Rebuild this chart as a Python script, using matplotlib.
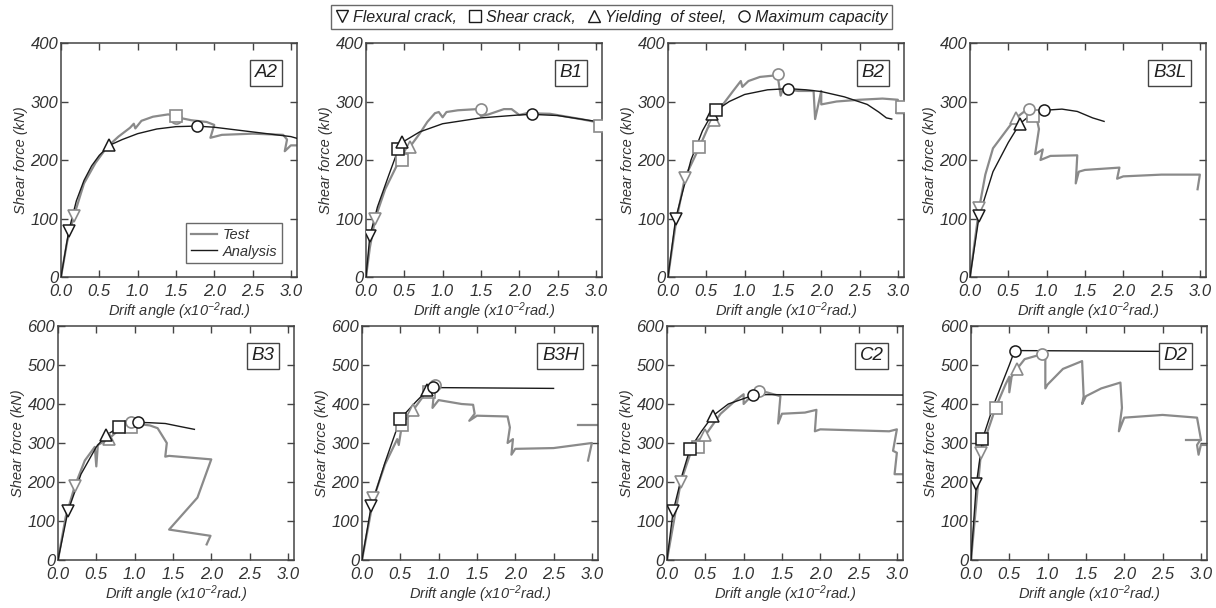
import matplotlib
matplotlib.use('Agg')
import matplotlib.pyplot as plt
from matplotlib.lines import Line2D

plt.rcParams['font.family'] = 'Liberation Sans'
plt.rcParams['font.style'] = 'italic'
plt.rcParams['mathtext.fontset'] = 'custom'
plt.rcParams['mathtext.it'] = 'Liberation Sans:italic'
plt.rcParams['mathtext.rm'] = 'Liberation Sans:italic'
plt.rcParams['mathtext.default'] = 'it'

TEST_C = '#8a8a8a'
ANA_C = '#1a1a1a'
TXT_C = '#333333'

# ---- data (drift angle x10^-2 rad, shear force kN) ----
a2_test = [(0, 0), (0.08, 60), (0.17, 105), (0.3, 160), (0.45, 195), (0.6, 222), (0.75, 240),
           (0.9, 255), (0.95, 262), (0.97, 254), (1.05, 267), (1.2, 274), (1.4, 278), (1.55, 272),
           (1.7, 268), (1.9, 265), (2.0, 260), (1.95, 238), (2.1, 243), (2.5, 245), (2.9, 243),
           (2.95, 235), (2.92, 215), (3.0, 225), (3.08, 225)]
a2_ana = [(0, 0), (0.1, 78), (0.2, 130), (0.3, 165), (0.4, 190), (0.5, 208), (0.63, 225), (0.8, 235),
          (1.0, 245), (1.25, 253), (1.5, 257), (1.77, 258), (2.0, 256), (2.5, 248), (3.0, 240), (3.08, 237)]
a2_test_marks = [('v', 0.17, 105), ('o', 1.5, 272), ('s', 1.5, 276)]
a2_ana_marks = [('v', 0.1, 78), ('^', 0.63, 225), ('o', 1.77, 258)]

b1_test = [(0, 0), (0.05, 50), (0.12, 100), (0.25, 150), (0.4, 190), (0.47, 200), (0.57, 222),
           (0.7, 245), (0.8, 265), (0.9, 280), (0.95, 282), (1.0, 273), (1.05, 282), (1.2, 285),
           (1.45, 287), (1.5, 275), (1.6, 278), (1.8, 287), (1.9, 287), (2.0, 277), (2.1, 280),
           (2.4, 279), (2.8, 270), (3.0, 265), (3.0, 255), (3.08, 255)]
b1_ana = [(0, 0), (0.05, 70), (0.15, 120), (0.3, 175), (0.42, 218), (0.47, 230), (0.7, 248),
          (1.0, 262), (1.5, 272), (2.0, 277), (2.17, 278), (2.5, 276), (3.0, 266), (3.08, 263)]
b1_test_marks = [('v', 0.12, 100), ('s', 0.47, 200), ('^', 0.57, 222), ('o', 1.5, 288), ('s', 3.05, 258)]
b1_ana_marks = [('v', 0.05, 70), ('s', 0.42, 218), ('^', 0.47, 230), ('o', 2.17, 278)]

b2_test = [(0, 0), (0.1, 90), (0.22, 170), (0.41, 222), (0.52, 255), (0.6, 268), (0.7, 292),
           (0.85, 318), (0.95, 335), (0.97, 325), (1.05, 335), (1.2, 342), (1.43, 345), (1.47, 310),
           (1.5, 322), (1.7, 318), (1.9, 318), (1.92, 270), (1.97, 300), (2.0, 318), (2.0, 295),
           (2.2, 300), (2.5, 303), (2.8, 305), (3.0, 303), (2.98, 280), (3.08, 280)]
b2_ana = [(0, 0), (0.1, 100), (0.3, 200), (0.45, 250), (0.57, 278), (0.63, 285), (0.8, 300),
          (1.0, 312), (1.3, 320), (1.57, 322), (1.8, 320), (2.0, 317), (2.3, 308), (2.6, 295),
          (2.75, 282), (2.85, 272), (2.92, 270)]
b2_test_marks = [('v', 0.22, 170), ('s', 0.41, 222), ('^', 0.6, 268), ('o', 1.43, 347), ('s', 3.05, 290)]
b2_ana_marks = [('v', 0.1, 100), ('^', 0.57, 278), ('s', 0.63, 285), ('o', 1.57, 322)]

b3l_test = [(0, 0), (0.12, 118), (0.2, 175), (0.3, 220), (0.5, 255), (0.6, 272), (0.7, 282),
            (0.77, 287), (0.82, 276), (0.88, 265), (0.9, 253), (0.85, 210), (0.95, 218), (0.92, 200),
            (1.05, 207), (1.4, 208), (1.38, 160), (1.42, 180), (1.5, 183), (1.95, 187), (1.92, 168),
            (2.0, 172), (2.5, 175), (3.0, 175), (2.97, 150)]
b3l_ana = [(0, 0), (0.12, 105), (0.3, 180), (0.5, 230), (0.65, 262), (0.8, 278), (0.97, 285),
           (1.2, 287), (1.4, 283), (1.6, 272), (1.75, 266)]
b3l_test_marks = [('v', 0.12, 118), ('^', 0.6, 272), ('s', 0.82, 276), ('o', 0.77, 287)]
b3l_ana_marks = [('v', 0.12, 105), ('^', 0.65, 262), ('o', 0.97, 285)]

b3_test = [(0, 0), (0.1, 110), (0.22, 190), (0.35, 255), (0.48, 290), (0.5, 240), (0.52, 295),
           (0.66, 310), (0.8, 335), (0.95, 350), (1.0, 350), (1.2, 345), (1.3, 338), (1.42, 300),
           (1.4, 265), (1.45, 267), (2.0, 258), (1.82, 160), (1.45, 78), (1.99, 62), (1.94, 40)]
b3_ana = [(0, 0), (0.13, 125), (0.3, 220), (0.5, 290), (0.63, 320), (0.79, 340), (0.9, 348),
          (1.05, 353), (1.2, 352), (1.4, 350), (1.6, 342), (1.78, 335)]
b3_test_marks = [('v', 0.22, 190), ('^', 0.66, 310), ('s', 0.95, 340), ('o', 0.95, 355)]
b3_ana_marks = [('v', 0.13, 125), ('^', 0.63, 320), ('s', 0.79, 340), ('o', 1.05, 353)]

b3h_test = [(0, 0), (0.15, 158), (0.3, 245), (0.46, 310), (0.48, 295), (0.52, 345), (0.67, 385),
            (0.8, 420), (0.88, 430), (0.95, 440), (0.93, 410), (0.92, 390), (1.0, 410), (1.3, 400),
            (1.45, 398), (1.47, 375), (1.4, 357), (1.5, 370), (1.9, 368), (1.93, 340), (1.9, 300),
            (1.97, 310), (1.95, 270), (2.0, 285), (2.5, 287), (3.0, 300), (2.95, 255)]
b3h_test2 = [(2.82, 345), (3.08, 345)]
b3h_ana = [(0, 0), (0.12, 138), (0.3, 250), (0.5, 362), (0.7, 405), (0.85, 435), (0.93, 443),
           (1.0, 442), (2.5, 440)]
b3h_test_marks = [('v', 0.15, 158), ('s', 0.52, 345), ('^', 0.67, 385), ('s', 0.88, 430), ('o', 0.95, 448)]
b3h_ana_marks = [('v', 0.12, 138), ('s', 0.5, 362), ('^', 0.85, 435), ('o', 0.93, 443)]

c2_test = [(0, 0), (0.18, 200), (0.3, 270), (0.4, 290), (0.35, 300), (0.5, 320), (0.7, 375),
           (0.9, 410), (1.0, 425), (1.0, 400), (1.1, 420), (1.2, 433), (1.3, 430), (1.48, 420),
           (1.45, 350), (1.5, 375), (1.8, 378), (1.95, 385), (1.93, 330), (2.0, 335), (2.9, 330),
           (3.0, 335), (2.95, 280), (3.0, 275), (2.97, 220), (3.08, 220)]
c2_ana = [(0, 0), (0.08, 125), (0.2, 220), (0.3, 285), (0.45, 330), (0.6, 370), (0.8, 400),
          (1.12, 422), (1.3, 424), (3.08, 423)]
c2_test_marks = [('v', 0.18, 200), ('s', 0.4, 290), ('^', 0.5, 320), ('o', 1.2, 433)]
c2_ana_marks = [('v', 0.08, 125), ('s', 0.3, 285), ('^', 0.6, 370), ('o', 1.12, 422)]

d2_test = [(0, 0), (0.13, 275), (0.2, 320), (0.32, 390), (0.45, 450), (0.5, 470), (0.5, 430),
           (0.53, 470), (0.6, 490), (0.7, 515), (0.93, 528), (0.97, 520), (0.97, 440), (1.0, 450),
           (1.2, 490), (1.45, 510), (1.47, 420), (1.45, 400), (1.5, 420), (1.7, 440), (1.95, 455),
           (1.97, 390), (1.93, 330), (2.0, 365), (2.5, 372), (2.95, 365), (3.0, 310), (2.95, 295),
           (2.97, 270), (3.0, 295), (3.08, 295)]
d2_test2 = [(2.8, 308), (3.0, 308)]
d2_ana = [(0, 0), (0.07, 195), (0.15, 310), (0.3, 400), (0.5, 500), (0.57, 537), (2.45, 535)]
d2_test_marks = [('v', 0.13, 275), ('s', 0.32, 390), ('^', 0.6, 490), ('o', 0.93, 528)]
d2_ana_marks = [('v', 0.07, 195), ('s', 0.15, 310), ('o', 0.57, 537)]

labels = ['A2', 'B1', 'B2', 'B3L', 'B3', 'B3H', 'C2', 'D2']
tests = [[a2_test], [b1_test], [b2_test], [b3l_test], [b3_test], [b3h_test, b3h_test2], [c2_test], [d2_test, d2_test2]]
anas = [a2_ana, b1_ana, b2_ana, b3l_ana, b3_ana, b3h_ana, c2_ana, d2_ana]
test_marks = [a2_test_marks, b1_test_marks, b2_test_marks, b3l_test_marks,
              b3_test_marks, b3h_test_marks, c2_test_marks, d2_test_marks]
ana_marks = [a2_ana_marks, b1_ana_marks, b2_ana_marks, b3l_ana_marks,
             b3_ana_marks, b3h_ana_marks, c2_ana_marks, d2_ana_marks]
ymaxs = [400, 400, 400, 400, 600, 600, 600, 600]

W, H = 1216, 608
lefts = [61, 366, 668, 970, 58, 362, 667, 971]
tops = [43, 43, 43, 43, 326, 326, 326, 326]
aw, ah = 236, 234

fig = plt.figure(figsize=(W / 100, H / 100), dpi=100)

for i in range(8):
    ax = fig.add_axes([lefts[i] / W, 1 - (tops[i] + ah) / H, aw / W, ah / H])
    for seg in tests[i]:
        ax.plot([p[0] for p in seg], [p[1] for p in seg], color=TEST_C, lw=1.6, zorder=2)
    ax.plot([p[0] for p in anas[i]], [p[1] for p in anas[i]], color=ANA_C, lw=1.0, zorder=3)
    for m, x, y in test_marks[i]:
        ax.plot(x, y, marker=m, ms=8, mfc='white', mec=TEST_C, mew=1.2, ls='none', zorder=4)
    for m, x, y in ana_marks[i]:
        ax.plot(x, y, marker=m, ms=8, mfc='white', mec=ANA_C, mew=1.1, ls='none', zorder=5)

    ax.set_xlim(0, 3.08)
    ax.set_ylim(0, ymaxs[i])
    ax.set_xticks([0, 0.5, 1.0, 1.5, 2.0, 2.5, 3.0])
    ax.set_xticklabels(['0.0', '0.5', '1.0', '1.5', '2.0', '2.5', '3.0'])
    ax.set_yticks(range(0, ymaxs[i] + 1, 100))
    ax.tick_params(direction='in', top=True, right=True, length=5, width=1, colors='#444444',
                   labelcolor=TXT_C, labelsize=12)
    ax.tick_params(axis='x', pad=5)
    ax.tick_params(axis='y', pad=2)
    for s in ax.spines.values():
        s.set_color('#444444')
        s.set_linewidth(1.1)
    ax.set_xlabel(r'Drift angle (x10$^{-2}$rad.)', fontsize=10.5, color=TXT_C, labelpad=1)
    ax.set_ylabel('Shear force (kN)', fontsize=10.5, color=TXT_C, labelpad=2)
    ax.text(0.917, 0.872, labels[i], transform=ax.transAxes, ha='right', va='center', fontsize=13.5,
            color='#222222', zorder=6,
            bbox=dict(boxstyle='square,pad=0.25', fc='white', ec='#444444', lw=1))
    if i == 0:
        h = [Line2D([], [], color=TEST_C, lw=1.6), Line2D([], [], color=ANA_C, lw=1.0)]
        leg = ax.legend(h, ['Test', 'Analysis'], loc='lower right', bbox_to_anchor=(0.935, 0.06),
                        borderaxespad=0, fancybox=False, edgecolor='#444444', fontsize=10.5,
                        handlelength=1.8, borderpad=0.3, labelspacing=0.2, handletextpad=0.4)
        leg.get_frame().set_linewidth(1)
        for t in leg.get_texts():
            t.set_color(TXT_C)

handles = [Line2D([], [], marker=m, ms=8, mfc='white', mec=ANA_C, mew=1.0, ls='none')
           for m in ['v', 's', '^', 'o']]
names = ['Flexural crack,', 'Shear crack,', 'Yielding  of steel,', 'Maximum capacity']
fl = fig.legend(handles, names, loc='center', bbox_to_anchor=(0.503, 0.972), ncol=4,
                fancybox=False, edgecolor='#444444', fontsize=11.5, handlelength=0.8,
                handletextpad=0.3, columnspacing=0.7, borderpad=0.3)
fl.get_frame().set_linewidth(1)
for t in fl.get_texts():
    t.set_color('#222222')

fig.savefig('out.png', dpi=100)
